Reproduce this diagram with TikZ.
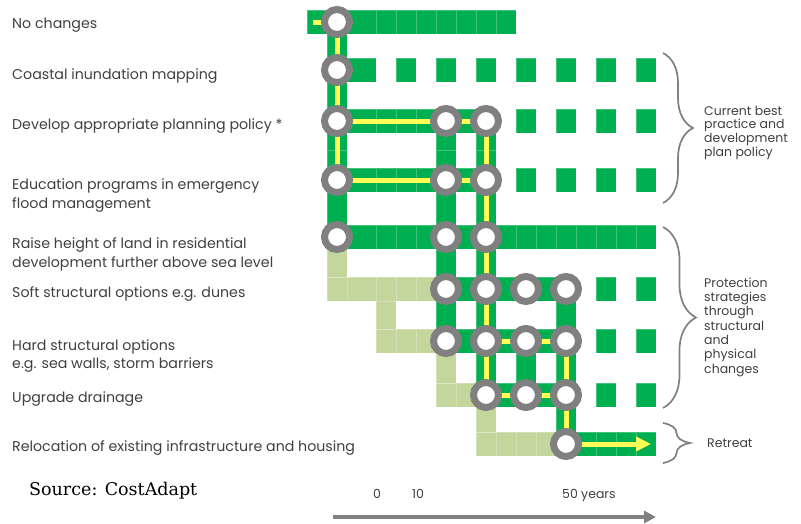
\documentclass[tikz,border=0pt]{standalone}
\usepackage{fontspec}
\setmainfont{Poppins}
\newfontfamily\srcfont{DejaVu Serif}
\usetikzlibrary{arrows.meta,decorations.pathreplacing}
\definecolor{grn}{HTML}{00B050}
\definecolor{pale}{HTML}{C3D69B}
\definecolor{ylw}{HTML}{FFFF55}
\definecolor{ring}{HTML}{808080}
\definecolor{txt}{HTML}{404040}
\pgfdeclarelayer{cells}
\pgfdeclarelayer{track}
\pgfsetlayers{cells,track,main}
\tikzset{
  gcell/.style={fill=grn, draw=white, draw opacity=0.25, line width=0.5pt},
  pcell/.style={fill=pale, draw=white, draw opacity=0.25, line width=0.5pt},
  station/.style={circle, draw=ring, fill=white, line width=7pt, minimum size=25pt, inner sep=0pt},
  trackline/.style={draw=ylw, line width=5pt},
  lab/.style={anchor=base west, inner sep=0pt, text=txt, font=\fontsize{14.2}{17}\selectfont},
  side/.style={anchor=base west, inner sep=0pt, text=txt, font=\fontsize{12.5}{14}\selectfont},
  brc/.style={draw=ring, line width=1.7pt, decorate, decoration={brace, amplitude=#1}},
}
\begin{document}
\begin{tikzpicture}[x=1pt,y=-1pt]
\useasboundingbox (0,0) rectangle (801,523);

% stations
\node[station] (a1) at (337,22) {};
\node[station] (a2) at (337,70) {};
\node[station] (a3) at (337,121) {};
\node[station] (a4) at (337,180) {};
\node[station] (a5) at (337,237) {};
\node[station] (b3) at (446,121) {};
\node[station] (b4) at (446,180) {};
\node[station] (b5) at (446,237) {};
\node[station] (b6) at (446,289) {};
\node[station] (b7) at (446,341) {};
\node[station] (c3) at (486,121) {};
\node[station] (c4) at (486,180) {};
\node[station] (c5) at (486,237) {};
\node[station] (c6) at (486,289) {};
\node[station] (c7) at (486,341) {};
\node[station] (c8) at (486,395) {};
\node[station] (d6) at (526,289) {};
\node[station] (d7) at (526,341) {};
\node[station] (d8) at (526,395) {};
\node[station] (e6) at (566,289) {};
\node[station] (e7) at (566,341) {};
\node[station] (e8) at (566,395) {};
\node[station] (e9) at (566,444) {};
\coordinate (s0) at (313,22);
\coordinate (tipend) at (651,444);

\begin{pgfonlayer}{cells}
% horizontal rows
\foreach \a/\b in {307/327,327/347,347/376,376/396,396/416,416/436,436/456,456/476,476/496,496/516}
  \path[gcell] (\a,10) rectangle (\b,34);
\foreach \a/\b in {327/347,347/376,396/416,436/456,476/496,516/536,556/576,596/616,636/656}
  \path[gcell] (\a,58) rectangle (\b,82);
\foreach \a/\b in {327/347,347/376,376/396,396/416,416/436,436/456,456/476,476/496,516/536,556/576,596/616,636/656}
  {\path[gcell] (\a,109) rectangle (\b,133);
   \path[gcell] (\a,168) rectangle (\b,192);}
\foreach \a/\b in {327/347,347/376,376/396,396/416,416/436,436/456,456/476,476/496,496/516,516/536,536/556,556/576,576/596,596/616,616/636,636/656}
  \path[gcell] (\a,225) rectangle (\b,249);
\foreach \a/\b in {327/347,347/376,376/396,396/416,416/436}
  \path[pcell] (\a,277) rectangle (\b,301);
\foreach \a/\b in {436/456,456/476,476/496,496/516,516/536,536/556,556/576,596/616,636/656}
  {\path[gcell] (\a,277) rectangle (\b,301);
   \path[gcell] (\a,329) rectangle (\b,353);}
\foreach \a/\b in {376/396,396/416,416/436}
  \path[pcell] (\a,329) rectangle (\b,353);
\foreach \a/\b in {436/456,456/476}
  \path[pcell] (\a,383) rectangle (\b,407);
\foreach \a/\b in {476/496,496/516,516/536,536/556,556/576,596/616,636/656}
  \path[gcell] (\a,383) rectangle (\b,407);
\foreach \a/\b in {476/496,496/516,516/536,536/556}
  \path[pcell] (\a,432) rectangle (\b,456);
\foreach \a/\b in {556/576,576/596,596/616,616/636,636/656}
  \path[gcell] (\a,432) rectangle (\b,456);
% vertical links
\foreach \a/\b in {34/58,82/109,133/150,150/168,192/225}
  \path[gcell] (327,\a) rectangle (347,\b);
\path[pcell] (327,249) rectangle (347,277);
\path[pcell] (376,301) rectangle (396,329);
\foreach \a/\b in {133/150,150/168,192/225,249/277,301/329}
  \path[gcell] (436,\a) rectangle (456,\b);
\path[pcell] (436,353) rectangle (456,383);
\foreach \a/\b in {133/150,150/168,192/225,249/277,301/329,353/383}
  \path[gcell] (476,\a) rectangle (496,\b);
\path[pcell] (476,407) rectangle (496,432);
\path[gcell] (516,353) rectangle (536,383);
\foreach \a/\b in {301/329,353/383,407/432}
  \path[gcell] (556,\a) rectangle (576,\b);
\end{pgfonlayer}

\begin{pgfonlayer}{track}
\draw[trackline] (s0) -- (a1.center) -- (a2.center) -- (a3.center) -- (a4.center);
\draw[trackline] (a3.center) -- (b3.center) -- (c3.center);
\draw[trackline] (a4.center) -- (b4.center) -- (c4.center);
\draw[trackline] (c3.center) -- (c4.center) -- (c5.center) -- (c6.center) -- (c7.center) -- (c8.center);
\draw[trackline] (c7.center) -- (d7.center) -- (e7.center);
\draw[trackline] (c8.center) -- (d8.center) -- (e8.center);
\draw[trackline] (e7.center) -- (e8.center) -- (e9.center);
\draw[trackline, -{Triangle[length=15pt,width=14pt]}] (e9.center) -- (tipend);
\end{pgfonlayer}

% left labels
\node[lab] (l1) at (12,28) {No changes};
\node[lab] (l2) at (12,79) {Coastal inundation mapping};
\node[lab] (l3) at (12,129) {Develop appropriate planning policy *};
\node[lab] (l4a) at (12,189) {Education programs in emergency};
\node[lab] (l4b) at (12,208) {flood management};
\node[lab] (l5a) at (12,248) {Raise height of land in residential};
\node[lab] (l5b) at (12,267) {development further above sea level};
\node[lab] (l6) at (12,297) {Soft structural options e.g. dunes};
\node[lab] (l7a) at (12,350) {Hard structural options};
\node[lab] (l7b) at (12,368) {e.g. sea walls, storm barriers};
\node[lab] (l8) at (12,402) {Upgrade drainage};
\node[lab] (l9) at (12,451) {Relocation of existing infrastructure and housing};

\node[anchor=base west, inner sep=0pt, font=\srcfont\fontsize{17.5}{20}\selectfont] (src) at (29,495) {Source: CostAdapt};

% axis
\node[side] (t0) at (373,498) {0};
\node[side] (t10) at (412,498) {10};
\node[side] (t50) at (562,498) {50 years};
\coordinate (ax0) at (333,517);
\coordinate (ax1) at (656,517);
\draw[draw=ring, line width=4pt, -{Triangle[length=12pt,width=12pt]}] (ax0) -- (ax1);

% braces
\draw[brc=30] (663,53) -- (663,203);
\draw[brc=33] (663,227) -- (663,408);
\draw[brc=27] (663,423) -- (663,463);

\node[side] (r1a) at (704,115) {Current best};
\node[side] (r1b) at (704,128.7) {practice and};
\node[side] (r1c) at (704,142.4) {development};
\node[side] (r1d) at (704,156) {plan policy};
\node[side] (r2a) at (704,287) {Protection};
\node[side] (r2b) at (704,301.3) {strategies};
\node[side] (r2c) at (704,315.7) {through};
\node[side] (r2d) at (704,330) {structural};
\node[side] (r2e) at (704,344.3) {and};
\node[side] (r2f) at (704,358.7) {physical};
\node[side] (r2g) at (704,373) {changes};
\node[side] (r3) at (707,447) {Retreat};
\end{tikzpicture}
\end{document}
